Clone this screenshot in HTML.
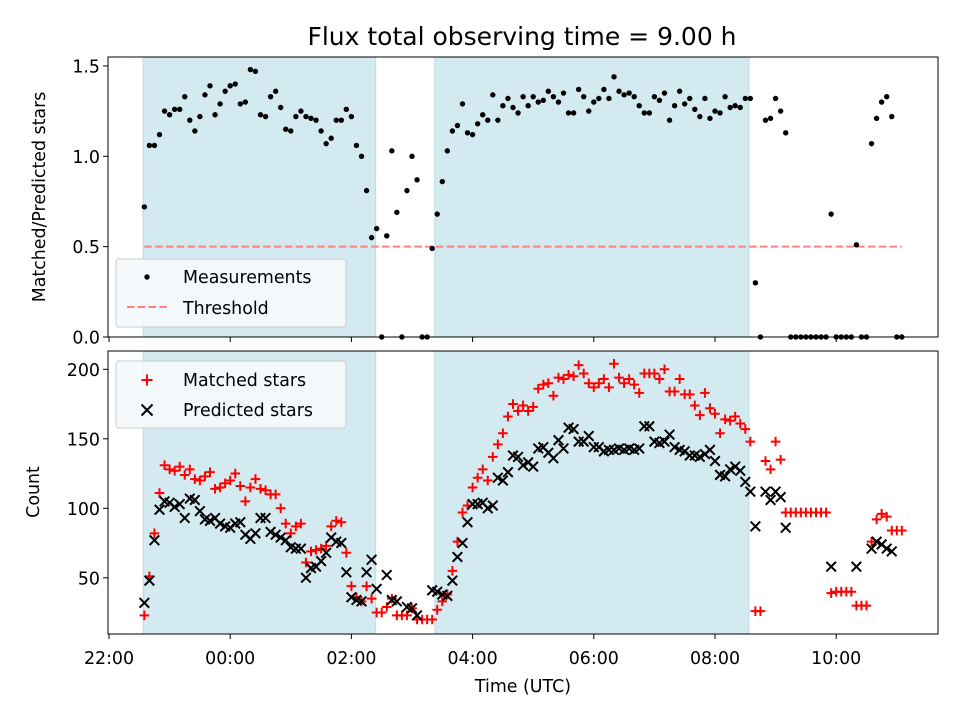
<!DOCTYPE html>
<html><head><meta charset="utf-8"><style>
html,body{margin:0;padding:0;background:#fff;}
svg{display:block;font-family:"DejaVu Sans","Liberation Sans",sans-serif;}
</style></head><body>
<svg id="chart" width="960" height="720" viewBox="0 0 960 720">
<rect width="960" height="720" fill="#fff"/>
<text x="522" y="45" font-size="25" text-anchor="middle">Flux total observing time = 9.00 h</text>
<g id="top"></g><g id="bot"></g>
<text x="523" y="692" font-size="17.4" text-anchor="middle">Time (UTC)</text>
<text transform="translate(45,197) rotate(-90)" font-size="17.4" text-anchor="middle">Matched/Predicted stars</text>
<text transform="translate(39,492) rotate(-90)" font-size="17.4" text-anchor="middle">Count</text>
</svg>
<script>
const startHour = 0.5833; // 22:35, hours since 22:00
const stepHour = 5/60;
const ratio = [0.72,1.06,1.06,1.12,1.25,1.23,1.26,1.26,1.33,1.20,1.14,1.22,1.34,1.39,1.23,1.29,1.36,1.39,1.40,1.29,1.30,1.48,1.47,1.23,1.22,1.33,1.36,1.27,1.15,1.14,1.22,1.25,1.22,1.21,1.20,1.14,1.07,1.10,1.20,1.20,1.26,1.22,1.06,1.00,0.81,0.55,0.60,0,0.56,1.03,0.69,0,0.81,1.00,0.87,0,0,
0.49,0.68,0.86,1.03,1.14,1.17,1.29,1.13,1.12,1.18,1.23,1.20,1.34,1.20,1.28,1.32,1.27,1.24,1.33,1.28,1.33,1.30,1.31,1.36,1.33,1.30,1.35,1.24,1.24,1.37,1.33,1.25,1.30,1.32,1.37,1.32,1.44,1.36,1.34,1.35,1.33,1.28,1.24,1.24,1.33,1.31,1.35,1.20,1.28,1.36,1.29,1.32,1.26,1.22,1.32,1.21,1.25,1.24,1.33,1.27,1.28,1.27,1.32,1.32,0.30,0,1.20,1.21,1.32,1.25,1.13,0,0,0,0,0,0,0,0,0.68,0,0,0,0,0.51,0,0,1.07,1.21,1.30,1.33,1.22,0,0];
const predicted = [32,48,77,99,105,104,101,103,93,107,106,98,92,91,93,89,87,86,89,90,81,78,82,93,93,83,81,79,77,72,71,71,50,57,58,62,68,79,76,75,54,36,34,33,54,63,42,null,52,34,33,null,29,28,23,null,null,
41,40,38,37,48,65,75,90,103,103,104,100,102,122,120,126,138,137,131,133,130,143,144,140,136,149,143,158,157,148,148,152,144,144,141,142,142,143,142,143,142,143,159,159,148,147,148,153,144,142,141,138,138,137,139,142,134,124,123,128,130,127,119,112,87,null,112,106,112,108,86,null,null,null,null,null,null,null,null,58,null,null,null,null,58,null,null,71,76,74,71,69,null,null];
const matched = [23,51,82,111,131,128,127,130,124,128,121,120,123,126,114,115,118,120,125,116,105,115,121,114,113,110,110,100,89,82,87,89,61,69,70,71,73,87,91,90,68,44,36,33,44,35,25,25,29,35,23,23,23,28,20,20,20,
20,27,33,38,55,76,97,102,115,122,128,120,137,146,154,166,175,170,174,170,173,186,189,190,181,194,193,196,195,203,197,190,187,190,193,187,204,194,190,193,189,183,197,197,197,193,200,184,184,193,182,182,174,167,183,172,168,154,164,163,166,161,157,148,26,26,134,128,148,135,97,97,97,97,97,97,97,97,97,39,40,40,40,40,30,30,30,76,92,96,94,84,84,84];
const xTickHours = [0,2,4,6,8,10,12];
const xTickLabels = ["22:00","00:00","02:00","04:00","06:00","08:00","10:00"];
const topTicks = [0,0.5,1.0,1.5];
const topTickLabels = ["0.0","0.5","1.0","1.5"];
const botTicks = [50,100,150,200];
const threshold = [0.5];
const spans = [[0.562,4.40],[5.376,10.56]];

const NS="http://www.w3.org/2000/svg";
const L=108,R=938, T1=57,B1=337, T2=351,B2=634;
const FS=17.4;
const xs=h=>109+60.6*h;
const yTop=v=>337-v*180.7;
const yBot=c=>369.3+(200-c)*1.39;
function mk(tag,attrs,parent){const e=document.createElementNS(NS,tag);for(const k in attrs)e.setAttribute(k,attrs[k]);parent.appendChild(e);return e;}
const gt=document.getElementById('top'), gb=document.getElementById('bot');
const hours=ratio.map((_,i)=>startHour+i*stepHour);

function panel(g,T,B,name){
  spans.forEach((s,k)=>{
    const r=mk('rect',{x:xs(s[0]),y:T,width:xs(s[1])-xs(s[0]),height:B-T,fill:'#d4eaf1',stroke:'#b8dce7','stroke-width':1},g);
    
    
  });
  xTickHours.forEach((h,k)=>{
    const t=mk('line',{x1:xs(h),x2:xs(h),y1:B,y2:B+5,stroke:'#000','stroke-width':1},g);
    
    
    if(name==='bottom'){
      const tx=mk('text',{x:xs(h),y:B+30,'font-size':FS,'text-anchor':'middle'},g);
      tx.textContent=xTickLabels[k];
      
      
    }
  });
}
panel(gt,T1,B1,'top');
panel(gb,T2,B2,'bottom');

threshold.forEach(v=>{
  const l=mk('line',{x1:xs(hours[0]),x2:xs(hours[hours.length-1]),y1:yTop(v),y2:yTop(v),stroke:'#ff8080','stroke-width':2,'stroke-dasharray':'7.5,3.3'},gt);
  
  
});
ratio.forEach((v,i)=>{
  const c=mk('circle',{cx:xs(hours[i]),cy:yTop(v),r:2.7,fill:'#000'},gt);
  
  
});
matched.forEach((v,i)=>{
  if(v==null)return;
  const x=xs(hours[i]),y=yBot(v);
  const p=mk('path',{d:`M${x-4.8},${y}H${x+4.8}M${x},${y-4.8}V${y+4.8}`,stroke:'#ff0000','stroke-width':2,fill:'none'},gb);
  
  
});
predicted.forEach((v,i)=>{
  if(v==null)return;
  const x=xs(hours[i]),y=yBot(v);
  const p=mk('path',{d:`M${x-4.8},${y-4.8}L${x+4.8},${y+4.8}M${x-4.8},${y+4.8}L${x+4.8},${y-4.8}`,stroke:'#000','stroke-width':2,fill:'none'},gb);
  
  
});

topTicks.forEach((v,k)=>{
  const t=mk('line',{x1:L-5,x2:L,y1:yTop(v),y2:yTop(v),stroke:'#000','stroke-width':1},gt);
  
  
  const tx=mk('text',{x:L-8,y:yTop(v)+6.5,'font-size':FS,'text-anchor':'end'},gt);
  tx.textContent=topTickLabels[k];
  
  
});
botTicks.forEach(v=>{
  const t=mk('line',{x1:L-5,x2:L,y1:yBot(v),y2:yBot(v),stroke:'#000','stroke-width':1},gb);
  
  
  const tx=mk('text',{x:L-8,y:yBot(v)+6.5,'font-size':FS,'text-anchor':'end'},gb);
  tx.textContent=String(v);
  
  
});

const f1=mk('rect',{x:L,y:T1,width:R-L,height:B1-T1,fill:'none',stroke:'#000','stroke-width':1},gt);


const f2=mk('rect',{x:L,y:T2,width:R-L,height:B2-T2,fill:'none',stroke:'#000','stroke-width':1},gb);



const lg1=mk('g',{},gt);


mk('rect',{x:116,y:259,width:230,height:68,rx:3,fill:'#f4f9fb','fill-opacity':0.95,stroke:'#cccccc'},lg1);
mk('circle',{cx:147,cy:277,r:2.7,fill:'#000'},lg1);
const t1=mk('text',{x:183,y:283,'font-size':FS},lg1);t1.textContent='Measurements';


mk('line',{x1:127,x2:167,y1:307,y2:307,stroke:'#ff8080','stroke-width':2,'stroke-dasharray':'7.5,3.3'},lg1);
const t2=mk('text',{x:183,y:314,'font-size':FS},lg1);t2.textContent='Threshold';



const lg2=mk('g',{},gb);


mk('rect',{x:116,y:361,width:230,height:67,rx:3,fill:'#f4f9fb','fill-opacity':0.95,stroke:'#cccccc'},lg2);
mk('path',{d:'M141.5,380H152.5M147,374.5V385.5',stroke:'#ff0000','stroke-width':2},lg2);
const t3=mk('text',{x:183,y:386,'font-size':FS},lg2);t3.textContent='Matched stars';


mk('path',{d:'M141.5,404.5L152.5,415.5M141.5,415.5L152.5,404.5',stroke:'#000','stroke-width':2},lg2);
const t4=mk('text',{x:183,y:416,'font-size':FS},lg2);t4.textContent='Predicted stars';


</script>
</body></html>
